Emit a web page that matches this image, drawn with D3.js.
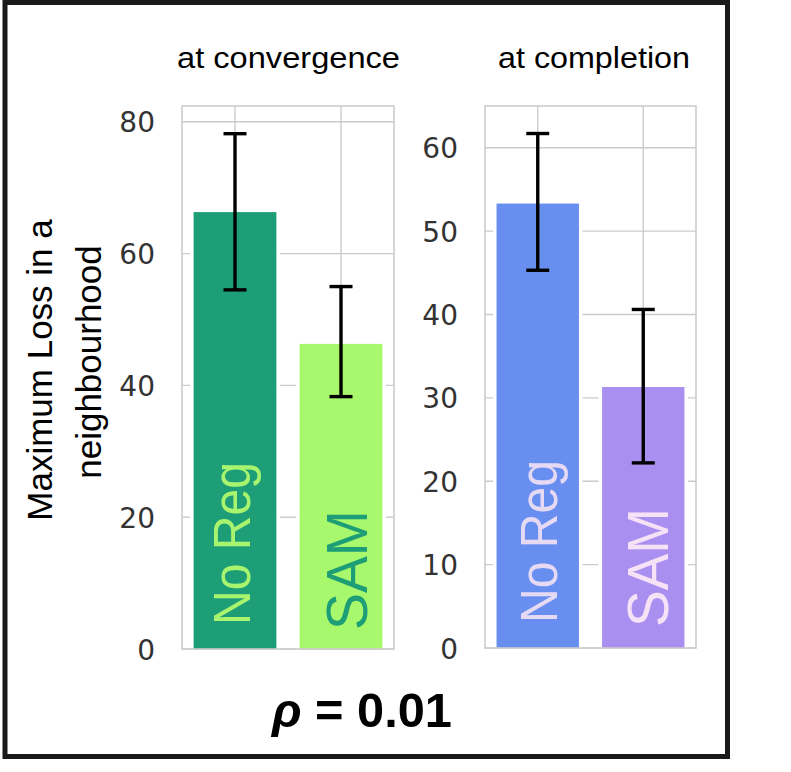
<!DOCTYPE html>
<html><head><meta charset="utf-8">
<script src="https://cdn.jsdelivr.net/npm/d3@7"></script>
<style>body{margin:0;background:#fff}svg{display:block}</style>
</head><body>
<script>
// ---- data ----
const categories = ["No Reg", "SAM"];
const convergenceValues = [66.3, 46.3];
const convergenceLow = [54.5, 38.3];
const convergenceHigh = [78.2, 55.0];
const completionValues = [53.3, 31.3];
const completionLow = [45.3, 22.2];
const completionHigh = [61.7, 40.6];
const convergenceTicks = [0, 20, 40, 60, 80];
const completionTicks = [0, 10, 20, 30, 40, 50, 60];
const panelTitles = ["at convergence", "at completion"];
const yLabelLines = ["Maximum Loss in a", "neighbourhood"];
const rhoLabel = "0.01";

const W = 791, H = 772;
const svg = d3.select("body").append("svg").attr("width", W).attr("height", H);

const grid = "#cccccc";

const panels = [
  { title: panelTitles[0], vals: convergenceValues, lo: convergenceLow, hi: convergenceHigh,
    ticks: convergenceTicks, ymax: 82.4, x0: 182, x1: 394, y0: 649, y1: 106,
    colors: ["#1d9e76", "#a8f86e"], textColors: ["#a8f46e", "#1d9e76"],
    titleX: 177, titleLen: 223, labelFs: [51, 58], labelLen: [163, 120],
    labelStart: [625, 630], labelOff: [15, 26] },
  { title: panelTitles[1], vals: completionValues, lo: completionLow, hi: completionHigh,
    ticks: completionTicks, ymax: 65, x0: 485, x1: 696, y0: 648, y1: 106,
    colors: ["#688fef", "#a990f0"], textColors: ["#e6d9f4", "#f6e2f6"],
    titleX: 498, titleLen: 192, labelFs: [51, 58], labelLen: [163, 119],
    labelStart: [623, 627], labelOff: [19, 25] }
];

panels.forEach(p => {
  const g = svg.append("g");
  const x = d3.scaleBand().domain(categories).range([p.x0, p.x1]).paddingInner(0.2).paddingOuter(0.1);
  const y = d3.scaleLinear().domain([0, p.ymax]).range([p.y0, p.y1]);

  // horizontal grid
  g.selectAll(".hg").data(p.ticks).join("line")
    .attr("x1", p.x0).attr("x2", p.x1)
    .attr("y1", d => y(d)).attr("y2", d => y(d))
    .attr("stroke", grid).attr("stroke-width", 1.4);
  // vertical grid at category centres
  g.selectAll(".vg").data(categories).join("line")
    .attr("x1", d => x(d) + x.bandwidth() / 2).attr("x2", d => x(d) + x.bandwidth() / 2)
    .attr("y1", p.y1).attr("y2", p.y0)
    .attr("stroke", grid).attr("stroke-width", 1.4);

  // bars: white edge then fill
  g.selectAll(".be").data(categories).join("rect")
    .attr("x", d => x(d) - 2.5).attr("width", x.bandwidth() + 5)
    .attr("y", (d, i) => y(p.vals[i]) - 2.5).attr("height", (d, i) => y(0) - y(p.vals[i]) + 2.5)
    .attr("fill", "#fff");
  g.selectAll(".bf").data(categories).join("rect")
    .attr("x", d => x(d) + 1).attr("width", x.bandwidth() - 2)
    .attr("y", (d, i) => y(p.vals[i])).attr("height", (d, i) => y(0) - y(p.vals[i]))
    .attr("fill", (d, i) => p.colors[i]);

  // in-bar labels
  categories.forEach((c, i) => {
    const cx = x(c) + x.bandwidth() / 2 + p.labelOff[i];
    g.append("text")
      .attr("transform", `translate(${cx},${p.labelStart[i]}) rotate(-90)`)
      .attr("font-family", "Liberation Sans, Arial, sans-serif")
      .attr("font-size", p.labelFs[i])
      .attr("textLength", p.labelLen[i]).attr("lengthAdjust", "spacingAndGlyphs")
      .attr("fill", p.textColors[i])
      .text(c);
  });

  // error bars
  categories.forEach((c, i) => {
    const cx = x(c) + x.bandwidth() / 2;
    const e = g.append("g").attr("stroke", "#000").attr("stroke-width", 3.4);
    e.append("line").attr("x1", cx).attr("x2", cx).attr("y1", y(p.lo[i])).attr("y2", y(p.hi[i]));
    e.append("line").attr("x1", cx - 11.5).attr("x2", cx + 11.5).attr("y1", y(p.lo[i])).attr("y2", y(p.lo[i]));
    e.append("line").attr("x1", cx - 11.5).attr("x2", cx + 11.5).attr("y1", y(p.hi[i])).attr("y2", y(p.hi[i]));
  });

  // frame
  g.append("rect").attr("x", p.x0).attr("y", p.y1).attr("width", p.x1 - p.x0).attr("height", p.y0 - p.y1)
    .attr("fill", "none").attr("stroke", grid).attr("stroke-width", 1.6);

  // y tick labels
  const axis = d3.axisLeft(y).tickValues(p.ticks).tickSize(0).tickPadding(27).tickFormat(d3.format("d"));
  const ag = g.append("g").attr("transform", `translate(${p.x0},0)`).call(axis);
  ag.select(".domain").remove();
  ag.selectAll("text").attr("font-family", "DejaVu Sans, sans-serif").attr("font-size", 28)
    .attr("fill", "#333").attr("dy", "0.36em");

  // title
  svg.append("text").attr("x", p.titleX).attr("y", 68)
    .attr("font-family", "Liberation Sans, Arial, sans-serif").attr("font-size", 29)
    .attr("textLength", p.titleLen).attr("lengthAdjust", "spacingAndGlyphs")
    .attr("fill", "#000").text(p.title);
});

// y label
yLabelLines.forEach((t, i) => {
  svg.append("text")
    .attr("transform", `translate(${[52, 101][i]},${[370, 362][i]}) rotate(-90)`)
    .attr("text-anchor", "middle")
    .attr("font-family", "Liberation Sans, Arial, sans-serif").attr("font-size", 35)
    .attr("fill", "#000").text(t);
});

// rho label
const rt = svg.append("text").attr("x", 272).attr("y", 727)
  .attr("font-family", "Liberation Sans, Arial, sans-serif").attr("font-size", 48).attr("font-weight", "bold")
  .attr("textLength", 180).attr("lengthAdjust", "spacingAndGlyphs").attr("fill", "#000");
rt.append("tspan").attr("font-style", "italic").text("ρ");
rt.append("tspan").text(" = " + rhoLabel);

// outer frame
svg.append("rect").attr("x", 5).attr("y", 2.5).attr("width", 722.5).attr("height", 754)
  .attr("fill", "none").attr("stroke", "#1a1a1a").attr("stroke-width", 5);
</script>
</body></html>
